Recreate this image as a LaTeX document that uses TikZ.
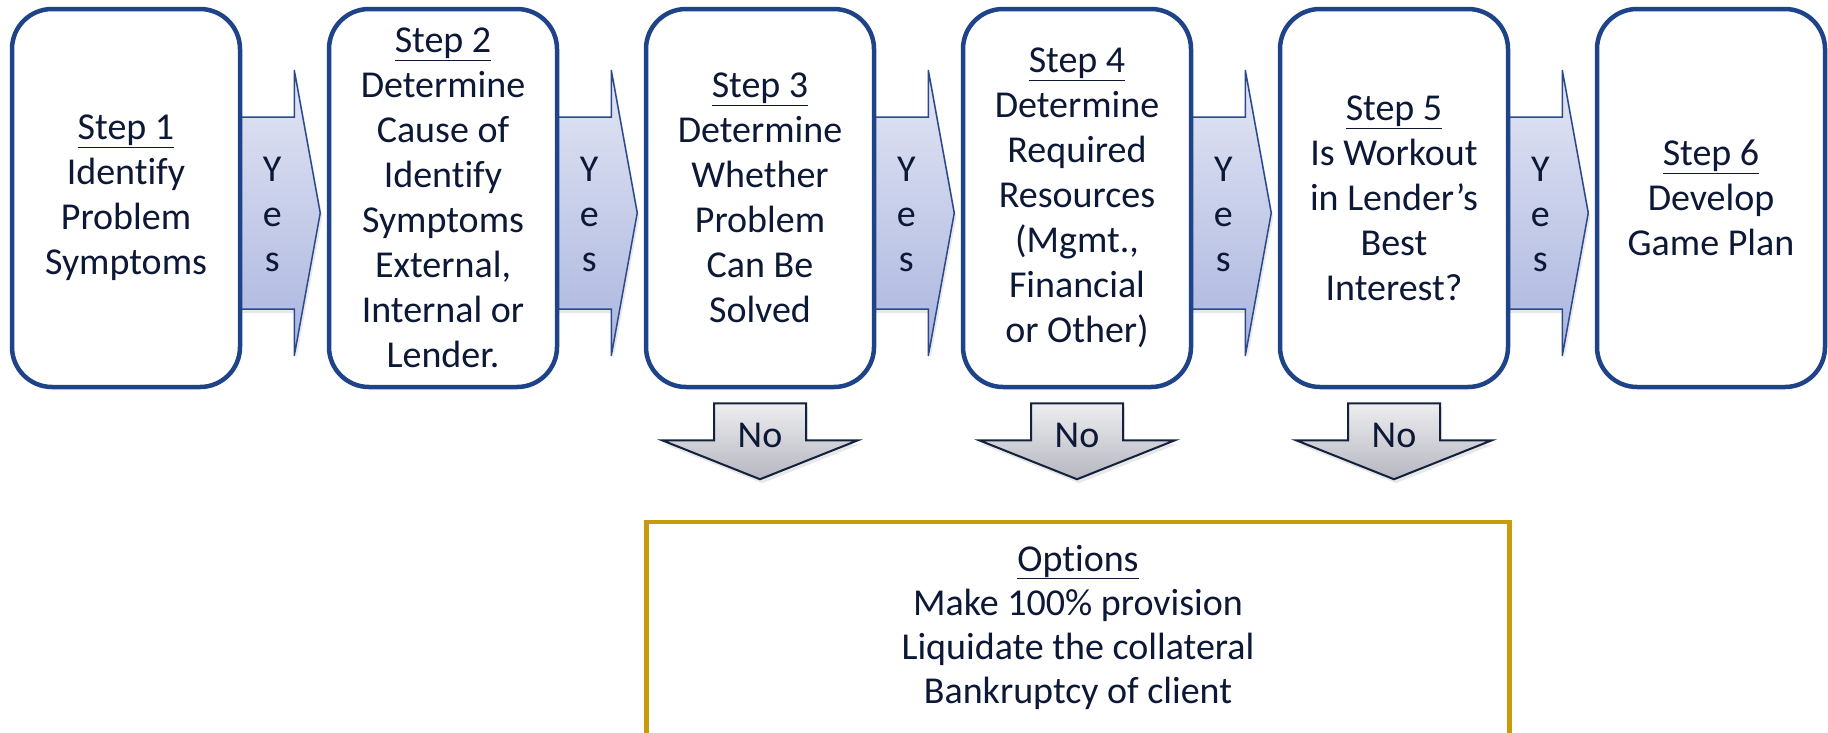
\documentclass[tikz,border=0pt]{standalone}
\usepackage{fontspec}
\setmainfont{Carlito}[Ligatures=NoCommon]
\usetikzlibrary{shadows,calc}
\definecolor{boxblue}{HTML}{1F4388}
\definecolor{navy}{HTML}{0C1836}
\definecolor{arrtop}{HTML}{E3E6F4}
\definecolor{arrbot}{HTML}{AAB5DE}
\definecolor{arredge}{HTML}{2A4A8C}
\definecolor{notop}{HTML}{EEEEF0}
\definecolor{nobot}{HTML}{B5B6C0}
\definecolor{noedge}{HTML}{14213D}
\definecolor{gold}{HTML}{C69B0E}
\pgfdeclarelayer{bg}
\pgfsetlayers{bg,main}
\begin{document}
\begin{tikzpicture}[x=1pt,y=-1pt,
 stepbox/.style={draw=boxblue, line width=4.5pt, rounded corners=40pt, fill=white,
   minimum width=228pt, minimum height=378pt, inner sep=0pt, align=center, text=navy,
   font=\fontsize{38}{45}\selectfont},
 yesarrow/.style={draw=arredge, line width=1.5pt, top color=arrtop, bottom color=arrbot,
   drop shadow={opacity=0.18,shadow xshift=2pt,shadow yshift=-4pt}},
 yestext/.style={align=center, text=navy, inner sep=0pt, font=\fontsize{38}{45}\selectfont},
 noarrow/.style={draw=noedge, line width=2pt, top color=notop, bottom color=nobot,
   drop shadow={opacity=0.18,shadow xshift=2pt,shadow yshift=-4pt}},
 notext/.style={text=navy, inner sep=0pt, font=\fontsize{38}{45}\selectfont},
 optbox/.style={draw=gold, line width=4.5pt, fill=white, minimum width=863pt, minimum height=238pt, inner sep=0pt},
 opttext/.style={align=center, text=navy, inner sep=0pt, font=\fontsize{38}{44}\selectfont}
]
\useasboundingbox (0,0) rectangle (1828,732);
\clip (0,0) rectangle (1828,732);

\node[stepbox] (b1) at (126,198) {\underline{Step 1}\\Identify\\Problem\\Symptoms};
\node[stepbox] (b2) at (443,198) {\underline{Step 2}\\Determine\\Cause of\\Identify\\Symptoms\\External,\\Internal or\\Lender.};
\node[stepbox] (b3) at (760,198) {\underline{Step 3}\\Determine\\Whether\\Problem\\Can Be\\Solved};
\node[stepbox] (b4) at (1077,198) {\underline{Step 4}\\Determine\\Required\\Resources\\(Mgmt.,\\Financial\\or Other)};
\node[stepbox] (b5) at (1394,198) {\underline{Step 5}\\Is Workout\\in Lender’s\\Best\\Interest?};
\node[stepbox] (b6) at (1711,198) {\underline{Step 6}\\Develop\\Game Plan};

\begin{pgfonlayer}{bg}
\foreach \i in {1,...,5}{
 \begin{scope}[shift={(b\i.east)}]
  \draw[yesarrow] (-20,-81) -- (52,-81) -- (52,-128) -- (78,15) -- (52,158) -- (52,111) -- (-20,111) -- cycle;
 \end{scope}
}
\end{pgfonlayer}
\foreach \i in {1,...,5}{
 \begin{scope}[shift={(b\i.east)}]
  \node[yestext] (y\i) at (30,16) {Y\\e\\s};
 \end{scope}
}

\foreach \i in {3,4,5}{
 \begin{scope}[shift={(b\i.south)}]
  \draw[noarrow] (-46,14) -- (46,14) -- (46,51) -- (98,51) -- (0,90) -- (-98,51) -- (-46,51) -- cycle;
  \node[notext] (n\i) at (0,46) {No};
 \end{scope}
}

\node[optbox] (opt) at (1078,641) {};
\node[opttext] (optt) at (1078,627) {\underline{Options}\\Make 100\% provision\\Liquidate the collateral\\Bankruptcy of client};
\end{tikzpicture}
\end{document}
